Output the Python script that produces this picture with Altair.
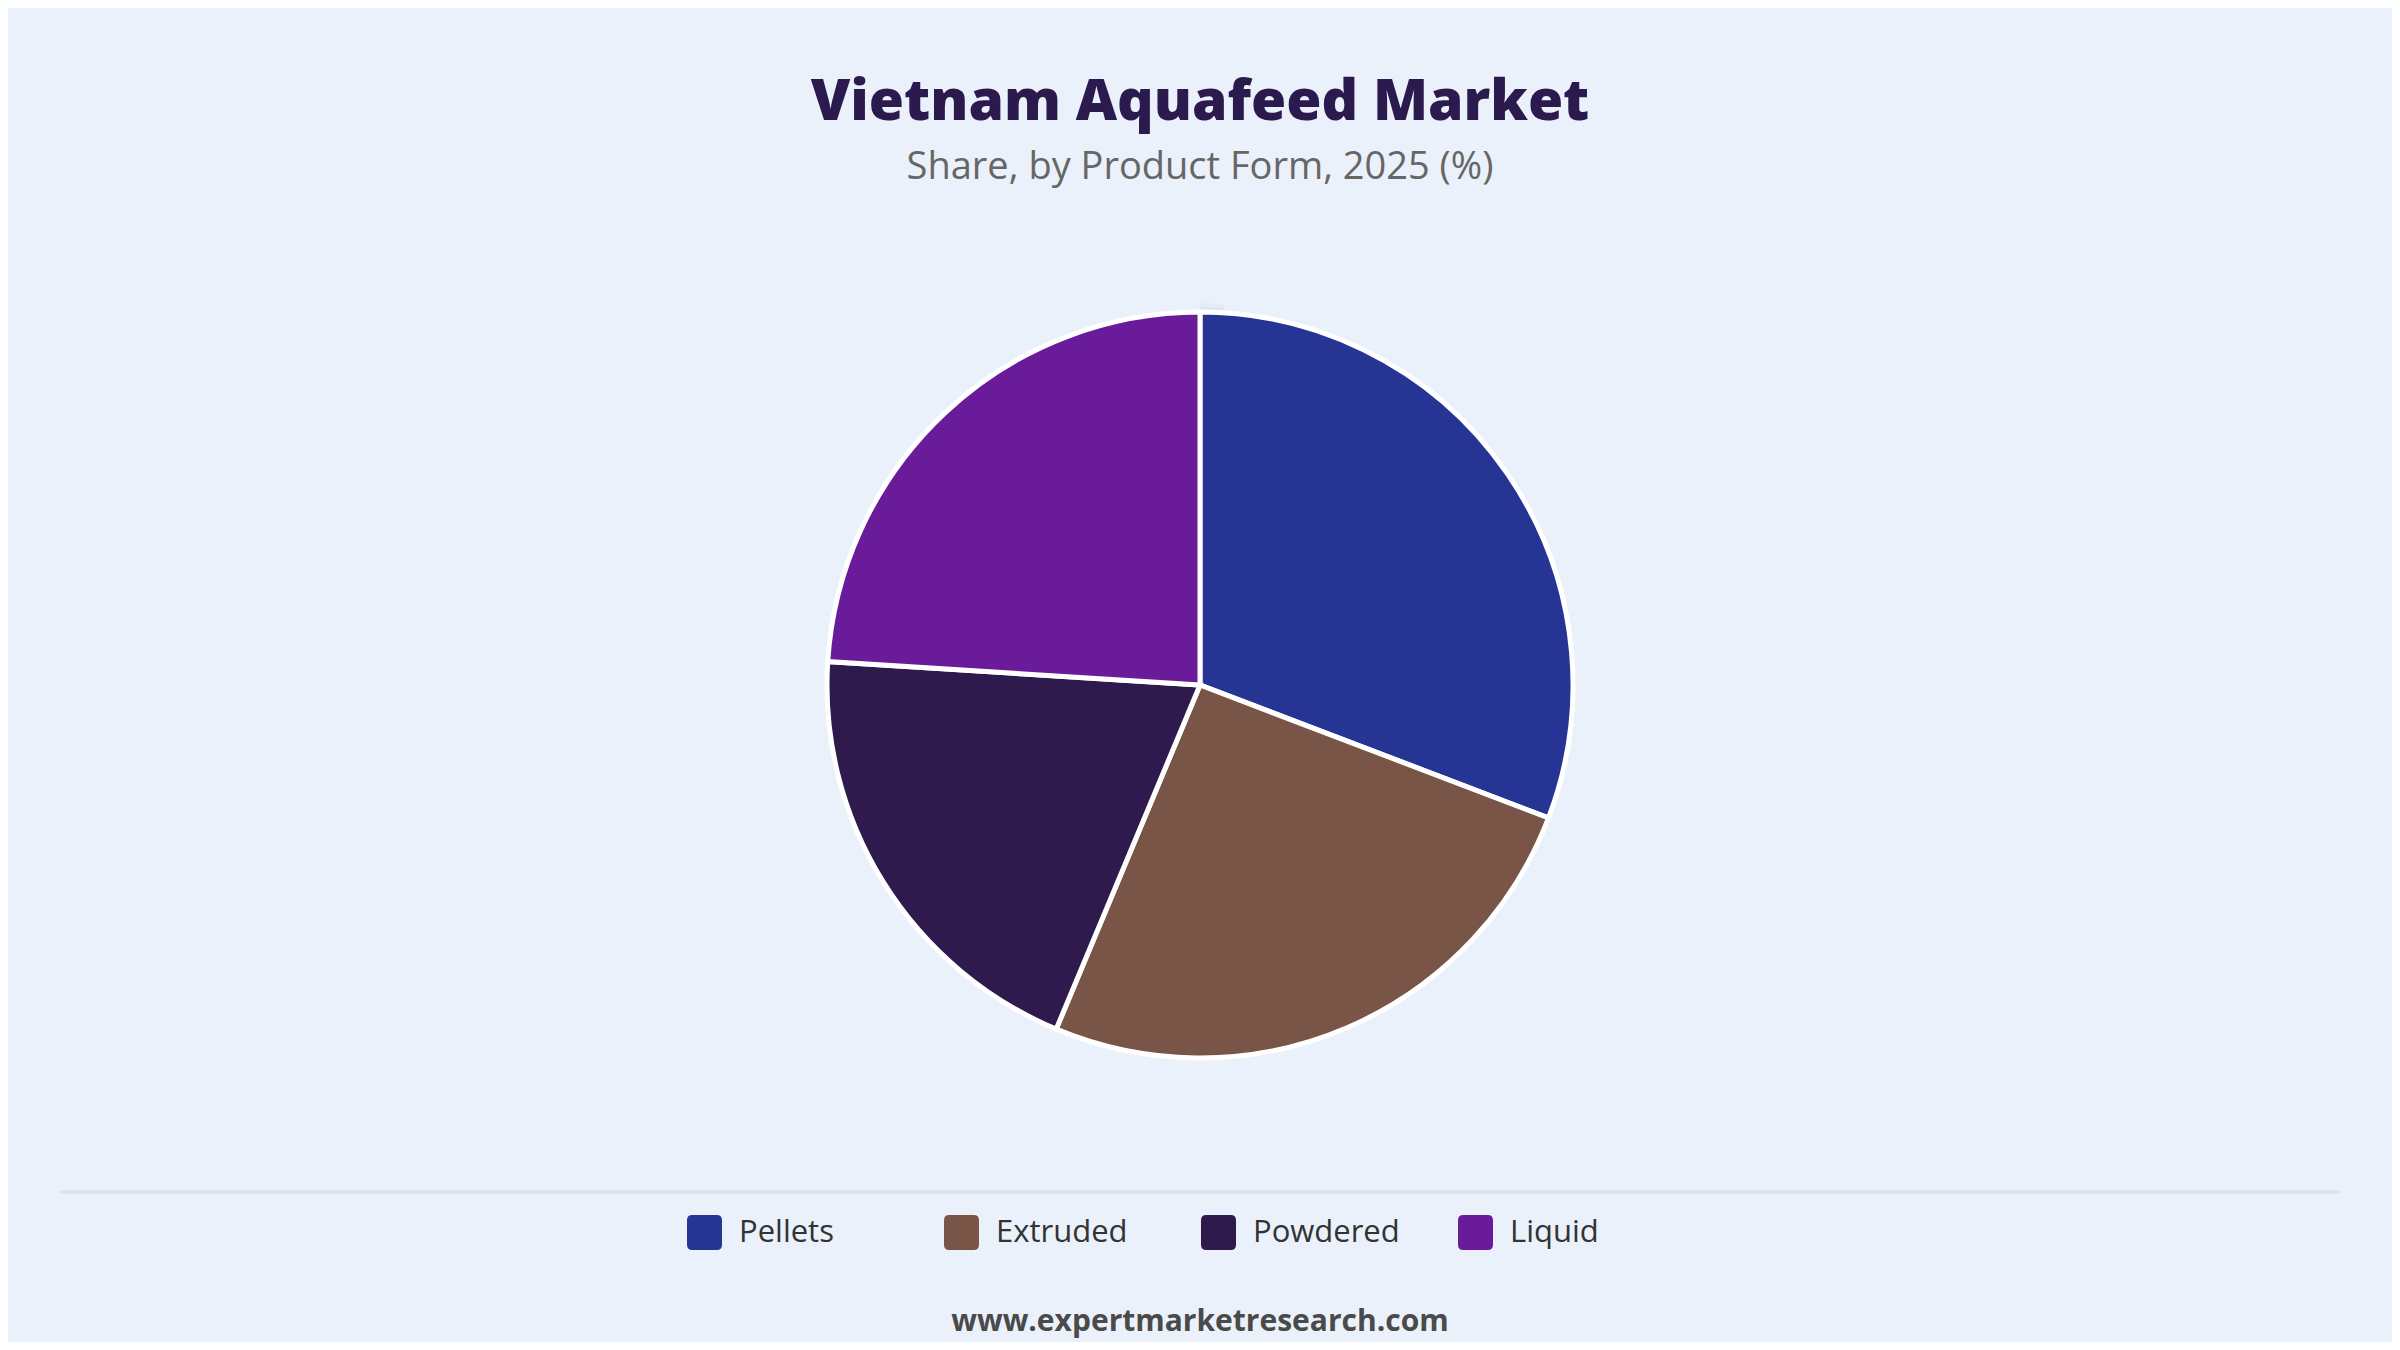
import altair as alt
import pandas as pd

# ---- data ----
categories = ["Pellets", "Extruded", "Powdered", "Liquid"]
shares = [30.8, 25.5, 19.7, 24.0]
colors = ["#263593", "#795548", "#2E1A4D", "#6A1B9A"]

title_text = "Vietnam Aquafeed Market"
subtitle_text = "Share, by Product Form, 2025 (%)"
footer_text = "www.expertmarketresearch.com"

# ---- layout ----
W, H = 2384, 1334
CX, CY = W / 2, 677
R = 373
FONT = "Open Sans"
BG = "#EAF1FB"

df = pd.DataFrame({"category": categories, "share": shares,
                   "order": list(range(len(categories)))})

rounded_square = ("M -0.7 -1 L 0.7 -1 Q 1 -1 1 -0.7 L 1 0.7 Q 1 1 0.7 1 "
                  "L -0.7 1 Q -1 1 -1 0.7 L -1 -0.7 Q -1 -1 -0.7 -1 Z")

# soft shadow behind the pie
shadow_df = pd.DataFrame({"share": [1]})
shadows = [
    alt.Chart(shadow_df).mark_arc(outerRadius=R + d, color="#8c9bb3", opacity=op).encode(
        theta=alt.Theta("share:Q"),
        x=alt.value(CX), y=alt.value(CY + 3),
    )
    for d, op in [(12, 0.05), (8, 0.08), (5, 0.12)]
]

pie = alt.Chart(df).mark_arc(outerRadius=R, stroke="white", strokeWidth=5).encode(
    theta=alt.Theta("share:Q", stack=True),
    order=alt.Order("order:Q"),
    color=alt.Color(
        "category:N",
        scale=alt.Scale(domain=categories, range=colors),
        legend=alt.Legend(
            title=None, orient="none", legendX=679, legendY=1207,
            direction="horizontal", columns=4, gridAlign="all",
            columnPadding=58, symbolType=rounded_square, symbolSize=1225,
            symbolStrokeWidth=0, labelFont=FONT, labelFontSize=31,
            labelColor="#333333", labelOffset=17, padding=0,
        ),
    ),
    x=alt.value(CX), y=alt.value(CY),
    tooltip=["category:N", "share:Q"],
)

title = alt.Chart(pd.DataFrame({"t": [title_text]})).mark_text(
    font=FONT, fontSize=57, fontWeight=800, color="#2B1A4D", baseline="middle", align="center"
).encode(text="t:N", x=alt.value(CX), y=alt.value(95))

subtitle = alt.Chart(pd.DataFrame({"t": [subtitle_text]})).mark_text(
    font=FONT, fontSize=38, color="#666666", baseline="middle", align="center"
).encode(text="t:N", x=alt.value(CX), y=alt.value(160))

rule = alt.Chart(pd.DataFrame({"a": [0]})).mark_rule(color="#DCDFE4", strokeWidth=3).encode(
    x=alt.value(53), x2=alt.value(2331), y=alt.value(1184)
)

footer = alt.Chart(pd.DataFrame({"t": [footer_text]})).mark_text(
    font=FONT, fontSize=30, fontWeight="bold", color="#4A4A4A", baseline="middle", align="center"
).encode(text="t:N", x=alt.value(CX), y=alt.value(1314))

chart = alt.layer(*shadows, pie, title, subtitle, rule, footer).properties(
    width=W, height=H, background=BG, padding=0, autosize="none"
).configure_view(stroke=None)

chart.save("out.html", embed_options={"renderer": "svg", "actions": False})
